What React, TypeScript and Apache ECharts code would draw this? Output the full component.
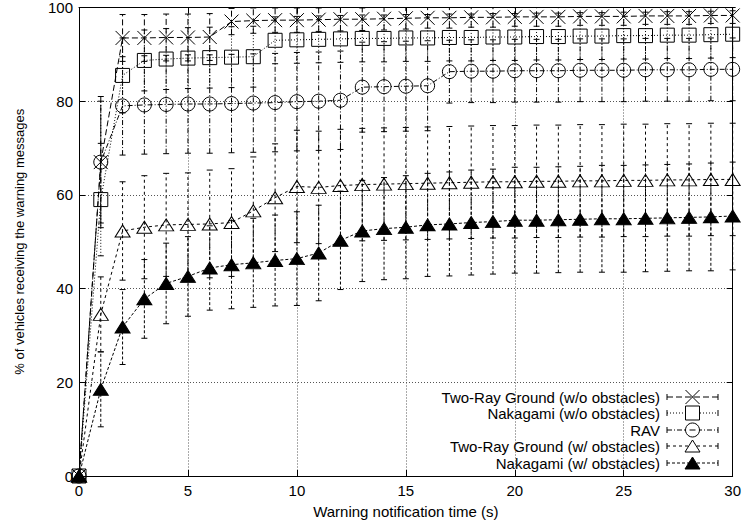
import React, { useEffect, useRef } from "react";
import * as echarts from "echarts";

const xValues = [0,1,2,3,4,5,6,7,8,9,10,11,12,13,14,15,16,17,18,19,20,21,22,23,24,25,26,27,28,29,30];

const twoRayWo = [0,67,93.5,93.5,93.6,93.6,93.7,97,97.2,97.3,97.3,97.4,97.5,97.5,97.6,97.7,97.8,97.8,97.9,97.9,98,98,98,98.1,98.1,98.1,98.2,98.2,98.2,98.3,98.3];
const twoRayWoErr = [0,14,5,5,5,5,5,2.8,2.7,2.6,2.6,2.5,2.5,2.4,2.4,2.3,2.2,2.2,2.1,2.1,2,2,2,1.9,1.9,1.9,1.8,1.8,1.8,1.7,1.7];

const nakWo = [0,59,85.5,88.7,89,89.2,89.3,89.4,89.5,93,93.1,93.2,93.3,93.4,93.4,93.5,93.5,93.6,93.6,93.7,93.7,93.8,93.8,93.9,93.9,94,94,94.1,94.1,94.2,94.3];
const nakWoErr = [0,12,8,6.5,6.5,6.5,6.5,6.5,6.5,5,5,5,5,5,5,5,5,5,5,5,5,5,5,5,5,5,5,5,5,5,5];

const rav = [0,67,79,79.2,79.3,79.4,79.4,79.5,79.6,79.7,79.9,80,80.2,83,83.1,83.2,83.3,86.3,86.4,86.4,86.5,86.5,86.5,86.6,86.6,86.6,86.7,86.7,86.7,86.8,86.8];
const ravErr = [0,13,10.5,10.5,10.5,10.5,10.5,10.5,10.5,10.5,10.5,10.5,10.5,9.6,9.6,9.6,9.6,6.7,6.7,6.7,6.7,6.7,6.7,6.7,6.7,6.7,6.7,6.7,6.7,6.7,6.7];

const twoRayW = [0,34.5,52.3,53.1,53.6,53.7,53.8,54.1,56.6,59.4,61.8,61.6,62,62.2,62.3,62.4,62.5,62.6,62.7,62.8,62.8,62.9,62.9,63,63,63.1,63.1,63.2,63.2,63.3,63.3];
const twoRayWErr = [0,8,10.5,11,11,11,11.5,11.5,11.5,11.5,12,12,12,12,12,12,12,12,12,12,12,12,12,12,12,12,12,12,12,12,12];

const nakW = [0,18.5,31.8,37.8,41.1,42.6,44.4,45.1,45.5,46,46.4,47.6,50.3,52.3,52.8,53.1,53.6,53.8,54.1,54.3,54.6,54.6,54.7,54.8,54.9,54.9,55,55.1,55.2,55.3,55.5];
const nakWErr = [0,8,8,8.4,8.6,8.5,9,9.4,9.5,9.7,10,10.2,10.5,10.8,10.9,11,11,11.1,11.2,11.2,11.3,11.3,11.3,11.3,11.4,11.4,11.4,11.4,11.4,11.5,11.5];

const seriesNames = [
  "Two-Ray Ground (w/o obstacles)",
  "Nakagami (w/o obstacles)",
  "RAV",
  "Two-Ray Ground (w/ obstacles)",
  "Nakagami (w/ obstacles)",
];

const xTitle = "Warning notification time (s)";
const yTitle = "% of vehicles receiving the warning messages";

const FONT = "'Liberation Sans', Arial, Helvetica, sans-serif";
const FS = 15;

const dashes: number[][] = [
  [6, 3],
  [1, 2],
  [5, 2, 1, 2],
  [3, 3],
  [3, 2],
];

const X_PATH = "path://M0,0L10,10M10,0L0,10";

const symbols = [
  { symbol: X_PATH, size: 14, fill: "rgba(0,0,0,0)" },
  { symbol: "rect", size: 14, fill: "rgba(0,0,0,0)" },
  { symbol: "circle", size: 14, fill: "rgba(0,0,0,0)" },
  { symbol: "triangle", size: [15, 12], fill: "rgba(0,0,0,0)" },
  { symbol: "triangle", size: [15, 12], fill: "#000" },
];

const allValues = [twoRayWo, nakWo, rav, twoRayW, nakW];
const allErrs = [twoRayWoErr, nakWoErr, ravErr, twoRayWErr, nakWErr];

export default function App() {
  const ref = useRef<HTMLDivElement>(null);
  useEffect(() => {
    if (!ref.current) return;
    const chart = echarts.init(ref.current, undefined, { renderer: "svg" });

    const series: any[] = [];
    allValues.forEach((vals, i) => {
      const errs = allErrs[i];
      const dash = dashes[i];
      const errData = xValues
        .map((x, k) => [x, vals[k] - errs[k], vals[k] + errs[k]])
        .filter((d, k) => errs[k] > 0);
      series.push({
        type: "custom",
        name: seriesNames[i] + " err",
        data: errData,
        z: 2,
        renderItem: (params: any, api: any) => {
          const x = api.value(0);
          const lo = Math.max(0, api.value(1));
          const hi = Math.min(100, api.value(2));
          const pLo = api.coord([x, lo]);
          const pHi = api.coord([x, hi]);
          const w = 3;
          const st = { stroke: "#000", lineWidth: 1, lineDash: dash };
          const cst = { stroke: "#000", lineWidth: 1 };
          return {
            type: "group",
            children: [
              { type: "line", shape: { x1: pLo[0], y1: pLo[1], x2: pHi[0], y2: pHi[1] }, style: st },
              { type: "line", shape: { x1: pLo[0] - w, y1: pLo[1], x2: pLo[0] + w, y2: pLo[1] }, style: cst },
              { type: "line", shape: { x1: pHi[0] - w, y1: pHi[1], x2: pHi[0] + w, y2: pHi[1] }, style: cst },
            ],
          };
        },
      });
      const sym = symbols[i];
      series.push({
        type: "line",
        name: seriesNames[i],
        data: xValues.map((x, k) => [x, vals[k]]),
        symbol: sym.symbol,
        symbolSize: sym.size,
        showAllSymbol: true,
        z: 3,
        lineStyle: { color: "#000", width: 1, type: dash },
        itemStyle: { color: sym.fill, borderColor: "#000", borderWidth: 1 },
        emphasis: { disabled: true },
      });
    });

    const legendRows = [397, 413, 430, 446, 463];
    const graphics: any[] = [];
    legendRows.forEach((y, i) => {
      graphics.push({
        type: "text",
        x: 660,
        y: y,
        style: {
          text: seriesNames[i],
          fill: "#000",
          font: `${FS}px ${FONT}`,
          align: "right",
          verticalAlign: "middle",
        },
      });
      const x1 = 667, x2 = 718, cx = 692.5;
      graphics.push({ type: "line", shape: { x1, y1: y, x2, y2: y }, style: { stroke: "#000", lineWidth: 1, lineDash: dashes[i] } });
      graphics.push({ type: "line", shape: { x1, y1: y - 3, x2: x1, y2: y + 3 }, style: { stroke: "#000", lineWidth: 1 } });
      graphics.push({ type: "line", shape: { x1: x2, y1: y - 3, x2: x2, y2: y + 3 }, style: { stroke: "#000", lineWidth: 1 } });
      if (i === 0) {
        graphics.push({ type: "line", shape: { x1: cx - 7, y1: y - 7, x2: cx + 7, y2: y + 7 }, style: { stroke: "#000", lineWidth: 1 } });
        graphics.push({ type: "line", shape: { x1: cx - 7, y1: y + 7, x2: cx + 7, y2: y - 7 }, style: { stroke: "#000", lineWidth: 1 } });
      } else if (i === 1) {
        graphics.push({ type: "rect", shape: { x: cx - 7, y: y - 7, width: 14, height: 14 }, style: { fill: "#fff", stroke: "#000", lineWidth: 1 } });
      } else if (i === 2) {
        graphics.push({ type: "circle", shape: { cx, cy: y, r: 7 }, style: { fill: "#fff", stroke: "#000", lineWidth: 1 } });
        graphics.push({ type: "line", shape: { x1: cx - 3, y1: y, x2: cx + 3, y2: y }, style: { stroke: "#000", lineWidth: 1 } });
      } else {
        graphics.push({
          type: "polygon",
          shape: { points: [[cx, y - 6], [cx + 7.5, y + 6], [cx - 7.5, y + 6]] },
          style: { fill: i === 4 ? "#000" : "#fff", stroke: "#000", lineWidth: 1 },
        });
      }
    });

    const axisLabel = { color: "#000", fontSize: FS, fontFamily: FONT };
    chart.setOption({
      animation: false,
      backgroundColor: "#fff",
      grid: { left: 79, right: 11, top: 7, bottom: 48, containLabel: false },
      xAxis: [
        {
          type: "value",
          min: 0,
          max: 30,
          interval: 5,
          position: "bottom",
          name: xTitle,
          nameLocation: "middle",
          nameGap: 28,
          nameTextStyle: { color: "#000", fontSize: FS, fontFamily: FONT },
          axisLine: { show: true, onZero: false, lineStyle: { color: "#000", width: 1 } },
          axisTick: { show: true, inside: true, length: 6, lineStyle: { color: "#000" } },
          axisLabel: { ...axisLabel, margin: 7 },
          splitLine: { show: true, lineStyle: { color: "#555", type: [1, 2], width: 1 } },
        },
        {
          type: "value",
          min: 0,
          max: 30,
          interval: 5,
          position: "top",
          axisLine: { show: true, onZero: false, lineStyle: { color: "#000", width: 1 } },
          axisTick: { show: true, inside: true, length: 6, lineStyle: { color: "#000" } },
          axisLabel: { show: false },
          splitLine: { show: false },
        },
      ],
      yAxis: [
        {
          type: "value",
          min: 0,
          max: 100,
          interval: 20,
          position: "left",
          name: yTitle,
          nameLocation: "middle",
          nameGap: 53,
          nameTextStyle: { color: "#000", fontSize: 13, fontFamily: FONT },
          axisLine: { show: true, onZero: false, lineStyle: { color: "#000", width: 1 } },
          axisTick: { show: true, inside: true, length: 6, lineStyle: { color: "#000" } },
          axisLabel: { ...axisLabel, margin: 6 },
          splitLine: { show: true, lineStyle: { color: "#555", type: [1, 2], width: 1 } },
        },
        {
          type: "value",
          min: 0,
          max: 100,
          interval: 20,
          position: "right",
          axisLine: { show: true, onZero: false, lineStyle: { color: "#000", width: 1 } },
          axisTick: { show: true, inside: true, length: 6, lineStyle: { color: "#000" } },
          axisLabel: { show: false },
          splitLine: { show: false },
        },
      ],
      series,
      graphic: graphics,
    });
    return () => chart.dispose();
  }, []);
  return <div ref={ref} style={{ width: 744, height: 524, position: "absolute", left: 0, top: 0 }} />;
}
